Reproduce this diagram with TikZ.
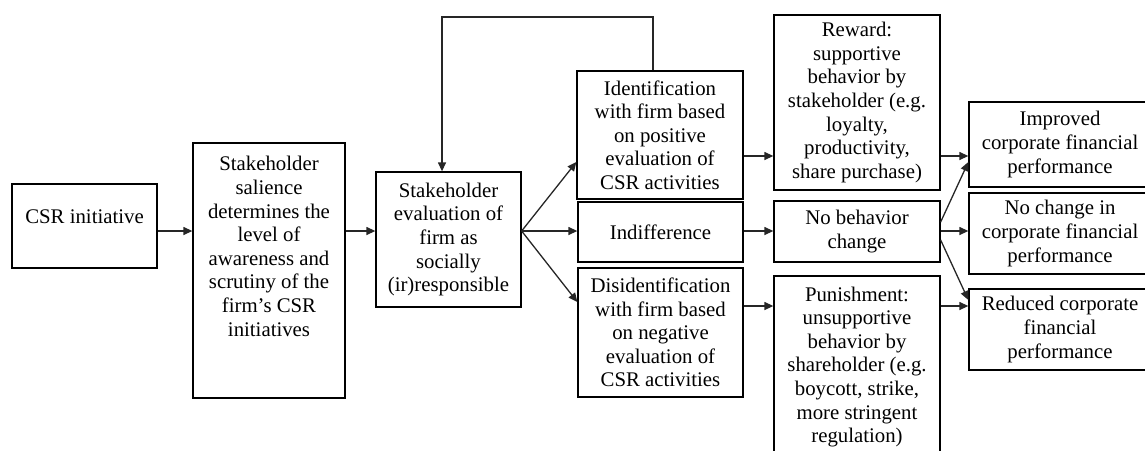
\documentclass[tikz,border=0pt]{standalone}
\usepackage{fontspec}
\setmainfont{Liberation Serif}
\usetikzlibrary{arrows.meta,positioning}
\tikzset{
  box/.style={rectangle, draw=black, line width=1.3pt, fill=white,
              inner sep=0pt, align=center,
              font=\fontsize{20.8}{23.6}\selectfont},
  txt/.style={inner sep=0pt, align=center,
              font=\fontsize{20.8}{23.6}\selectfont},
  arrow/.style={-{Triangle[length=9pt,width=8pt]}, line width=1.3pt, draw=black!85}
}

\begin{document}
\begin{tikzpicture}[x=1pt,y=-1pt]
\useasboundingbox (0,0) rectangle (1145,450);
\clip (0,0) rectangle (1145,450);

% first two stages, text at the top of the box
\node[box, minimum width=145pt, minimum height=84pt] (csr) at (84.5,226) {};
\node[txt, below=26pt of csr.north] (csr-t) {CSR initiative};
\node[box, minimum width=152pt, minimum height=255pt] (sal) at (269,270.5) {};
\node[txt, below=14pt of sal.north] (sal-t) {Stakeholder\\salience\\determines the\\level of\\awareness and\\scrutiny of the\\firm’s CSR\\initiatives};
\node[box, minimum width=145pt, minimum height=135pt] (eval) at (448.5,239.5)
  {Stakeholder\\evaluation of\\firm as\\socially\\(ir)responsible};

% reactions
\node[box, minimum width=166pt, minimum height=128pt] (ident) at (660,135)
  {Identification\\with firm based\\on positive\\evaluation of\\CSR activities};
\node[box, minimum width=165pt, minimum height=60pt] (indiff) at (660.5,232) {Indifference};
\node[box, minimum width=165pt, minimum height=129pt] (disid) at (660.5,332.5)
  {Disidentification\\with firm based\\on negative\\evaluation of\\CSR activities};

% behaviour
\node[box, minimum width=166pt, minimum height=175pt] (reward) at (857,102.5)
  {Reward:\\supportive\\behavior by\\stakeholder (e.g.\\loyalty,\\productivity,\\share purchase)};
\node[box, minimum width=166pt, minimum height=61pt] (nobeh) at (857,231.5) {No behavior\\change};
\node[box, minimum width=166pt, minimum height=182pt] (punish) at (857,367)
  {Punishment:\\unsupportive\\behavior by\\shareholder (e.g.\\boycott, strike,\\more stringent\\regulation)};

% outcomes
\node[box, minimum width=182pt, minimum height=85pt] (improved) at (1060,144.5)
  {Improved\\corporate financial\\performance};
\node[box, minimum width=182pt, minimum height=81pt] (nochange) at (1060,233.5)
  {No change in\\corporate financial\\performance};
\node[box, minimum width=182pt, minimum height=81pt] (reduced) at (1060,329.5)
  {Reduced corporate\\financial\\performance};

% rows for the straight arrows
\coordinate (rowa) at (0,156);
\coordinate (rowb) at (0,231);
\coordinate (rowc) at (0,306);
\coordinate (fb) at (442,17);

\draw[arrow] (csr.east |- rowb) -- (sal.west |- rowb);
\draw[arrow] (sal.east |- rowb) -- (eval.west |- rowb);
\draw[arrow] (eval.east |- rowb) -- ([yshift=-27pt]ident.west);
\draw[arrow] (eval.east |- rowb) -- (indiff.west |- rowb);
\draw[arrow] (eval.east |- rowb) -- ([yshift=30.5pt]disid.west);
\draw[arrow] ([xshift=-7pt]ident.north) |- (fb) -- (fb |- eval.north);

\draw[arrow] (ident.east |- rowa) -- (reward.west |- rowa);
\draw[arrow] (indiff.east |- rowb) -- (nobeh.west |- rowb);
\draw[arrow] (disid.east |- rowc) -- (punish.west |- rowc);

\draw[arrow] (reward.east |- rowa) -- (improved.west |- rowa);
\draw[arrow] (nobeh.east |- rowb) -- (nochange.west |- rowb);
\draw[arrow] (punish.east |- rowc) -- (reduced.west |- rowc);
\draw[arrow] ([yshift=9.5pt]nobeh.east) -- ([yshift=-17.5pt]improved.west);
\draw[arrow] ([yshift=-8.5pt]nobeh.east) -- ([yshift=29.5pt]reduced.west);
\end{tikzpicture}
\end{document}
